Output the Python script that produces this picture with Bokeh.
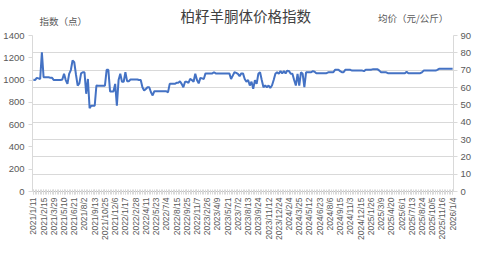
import math
from bokeh.plotting import figure
from bokeh.layouts import column
from bokeh.models import Range1d, LinearAxis, FixedTicker, Grid
from bokeh.core.properties import value
from bokeh.embed import file_html
from bokeh.resources import INLINE

title = "柏籽羊胴体价格指数"
left_title = "指数（点）"
right_title = "均价（元/公斤）"

tick_labels = [
    "2021/1/11", "2021/2/15", "2021/3/29", "2021/5/10", "2021/6/21", "2021/8/2",
    "2021/9/13", "2021/10/25", "2021/12/6", "2022/1/17", "2022/2/28", "2022/4/11",
    "2022/5/23", "2022/7/4", "2022/8/15", "2022/9/25", "2022/11/7", "2023/2/26",
    "2023/4/9", "2023/5/21", "2023/7/2", "2023/8/13", "2023/9/24", "2023/11/12",
    "2023/12/24", "2024/2/4", "2024/3/25", "2024/5/12", "2024/6/23", "2024/8/6",
    "2024/9/15", "2024/11/3", "2024/12/15", "2025/1/26", "2025/3/9", "2025/4/20",
    "2025/6/1", "2025/7/13", "2025/8/24", "2025/10/5", "2025/11/16", "2026/1/4",
]
label_step = 6

index_values = [
    1003, 1000, 1020, 1015, 1010, 1250, 1026, 1025, 1025, 1025,
    1020, 1020, 1000, 1000, 1000, 1000, 1000, 1005, 1056, 1000,
    966, 1056, 1090, 1176, 1160, 1050, 951, 970, 1060, 1070,
    1070, 877, 1010, 748, 770, 770, 770, 951, 950, 950,
    950, 950, 950, 1092, 1092, 898, 898, 898, 966, 770,
    1000, 1056, 985, 985, 1070, 990, 990, 1005, 1005, 1005,
    1005, 1005, 1000, 1000, 936, 906, 920, 936, 936, 891,
    862, 900, 900, 900, 900, 900, 900, 900, 900, 890,
    966, 966, 966, 966, 975, 975, 990, 966, 936, 985,
    985, 975, 1010, 1000, 985, 1056, 1000, 970, 1020, 1015,
    1010, 1060, 1060, 1060, 1060, 1060, 1070, 1060, 1060, 1060,
    1060, 1060, 1060, 1060, 1060, 1060, 1010, 1040, 1070, 1065,
    1056, 1035, 1060, 1060, 1010, 985, 1000, 951, 985, 921,
    1000, 966, 1056, 1070, 1000, 936, 951, 936, 951, 930,
    951, 1000, 1056, 1070, 1056, 1080, 1060, 1080, 1060, 1085,
    1080, 1056, 1056, 1000, 951, 1056, 951, 1070, 1056, 936,
    1070, 1070, 1070, 1070, 1080, 1075, 1062, 1062, 1062, 1062,
    1062, 1062, 1062, 1070, 1070, 1070, 1070, 1092, 1092, 1092,
    1080, 1070, 1070, 1092, 1092, 1092, 1092, 1085, 1085, 1085,
    1085, 1085, 1085, 1085, 1080, 1092, 1092, 1092, 1092, 1096,
    1096, 1096, 1096, 1085, 1070, 1070, 1070, 1070, 1062, 1062,
    1062, 1062, 1062, 1062, 1062, 1062, 1062, 1062, 1062, 1075,
    1062, 1062, 1062, 1062, 1062, 1062, 1062, 1062, 1070, 1085,
    1085, 1085, 1085, 1085, 1085, 1085, 1085, 1092, 1101, 1101,
    1101, 1101, 1101, 1101, 1101, 1101, 1101,
]

left_ticks = [0, 200, 400, 600, 800, 1000, 1200, 1400]
right_ticks = [0, 10, 20, 30, 40, 50, 60, 70, 80, 90]

n = len(index_values)
xs = list(range(n))
label_pos = [i * label_step for i in range(len(tick_labels))]

GRAY_TXT = "#595959"
AXIS_C = "#d9d9d9"
FONT = "Liberation Sans"
CJK = "Noto Sans CJK SC"
W = 480
HEAD_H = 29
MAIN_H = 266 - HEAD_H

# ---- header strip holding the titles ----
head = figure(width=W, height=HEAD_H, output_backend="svg", toolbar_location=None,
              x_range=Range1d(0, W), y_range=Range1d(HEAD_H, 0),
              x_axis_location=None, y_axis_location=None,
              min_border=0, min_border_left=0, min_border_right=0,
              min_border_top=0, min_border_bottom=0)
head.outline_line_color = None
head.xgrid.visible = False
head.ygrid.visible = False
head.text(x=[243], y=[15], text=[title], text_font=value(CJK),
          text_font_size="14.5px", text_color="#404040",
          text_align="center", text_baseline="middle")
head.text(x=[8], y=[20], text=[left_title], text_font=value(CJK),
          text_font_size="9.5px", text_color=GRAY_TXT,
          text_align="left", text_baseline="middle")
head.text(x=[474], y=[17], text=[right_title], text_font=value(CJK),
          text_font_size="9.5px", text_color=GRAY_TXT,
          text_align="right", text_baseline="middle")

# ---- main chart ----
p = figure(width=W, height=MAIN_H, output_backend="svg", toolbar_location=None,
           x_range=Range1d(-0.5, n - 0.5), y_range=Range1d(0, 1400),
           min_border_left=32, min_border_right=27, min_border_top=6,
           min_border_bottom=75)
p.outline_line_color = None
p.background_fill_color = "white"
p.border_fill_color = "white"
p.xgrid.visible = False
p.ygrid.visible = False

p.extra_y_ranges = {"price": Range1d(0, 90)}

ya = p.yaxis[0]
ya.ticker = FixedTicker(ticks=left_ticks)
ya.axis_line_color = AXIS_C
ya.major_tick_line_color = AXIS_C
ya.major_tick_in = 0
ya.major_tick_out = 4
ya.minor_tick_line_color = None
ya.major_label_text_font = FONT
ya.major_label_text_font_size = "9.5px"
ya.major_label_text_color = GRAY_TXT
ya.major_label_standoff = 4

ra = LinearAxis(y_range_name="price", ticker=FixedTicker(ticks=right_ticks))
ra.axis_line_color = AXIS_C
ra.major_tick_line_color = AXIS_C
ra.major_tick_in = 0
ra.major_tick_out = 4
ra.minor_tick_line_color = None
ra.major_label_text_font = FONT
ra.major_label_text_font_size = "9.5px"
ra.major_label_text_color = GRAY_TXT
ra.major_label_standoff = 3
p.add_layout(ra, "right")

p.add_layout(Grid(dimension=1, ticker=FixedTicker(ticks=right_ticks),
                  y_range_name="price", grid_line_color=AXIS_C,
                  grid_line_width=1))

xa = p.xaxis[0]
xa.ticker = FixedTicker(ticks=label_pos, minor_ticks=xs)
xa.major_label_overrides = {pos: lab for pos, lab in zip(label_pos, tick_labels)}
xa.major_label_orientation = math.pi / 2
xa.major_label_text_font = FONT
xa.major_label_text_font_size = "8.5px"
xa.major_label_text_color = GRAY_TXT
xa.major_label_standoff = 3
xa.axis_line_color = "#bfbfbf"
xa.major_tick_line_color = AXIS_C
xa.minor_tick_line_color = AXIS_C
xa.major_tick_in = 2
xa.major_tick_out = 3
xa.minor_tick_in = 2
xa.minor_tick_out = 3

p.line(xs, index_values, line_color="#4472C4", line_width=2)

layout = column(head, p, spacing=0)
open("out.html", "w").write(file_html(layout, INLINE))
